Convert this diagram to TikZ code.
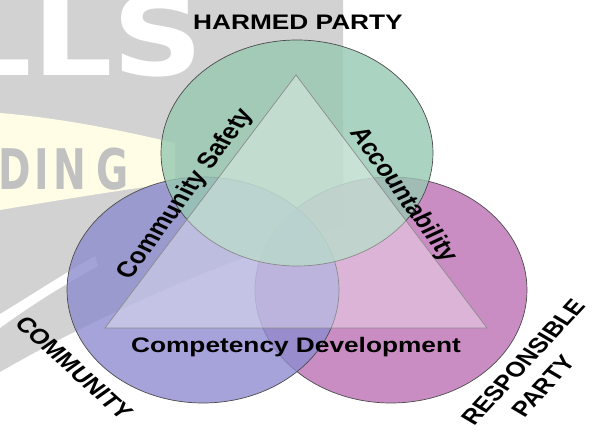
\documentclass[tikz,border=0pt]{standalone}
\usepackage{fontspec}
\setsansfont{Liberation Sans}
\newfontfamily\logofont{DejaVu Sans}

\definecolor{harmed}{RGB}{150,200,177}
\definecolor{community}{RGB}{142,140,207}
\definecolor{responsible}{RGB}{188,113,180}
\definecolor{logogray}{RGB}{210,210,210}
\definecolor{logoyellow}{RGB}{255,253,230}

\tikzset{
  party/.style={draw=black!70, line width=0.7pt, fill opacity=0.8},
  partytext/.style={font=\sffamily\bfseries\fontsize{21}{23}\selectfont, xscale=1.25, inner sep=0pt},
  valuetext/.style={partytext, font=\sffamily\bfseries\fontsize{22}{24}\selectfont},
  logotext/.style={font=\logofont\bfseries\fontsize{110}{110}\selectfont, text=white, xscale=1.15, inner sep=0pt},
  logoletter/.style={font=\logofont\bfseries\fontsize{56}{56}\selectfont, text=logogray!92!black, xscale=0.7, inner sep=0pt}
}

\begin{document}
\begin{tikzpicture}[x=1pt, y=-1pt]
  \useasboundingbox (0,0) rectangle (592,430);

  % faded logo behind everything
  \fill[logogray] (0,0) -- (343,0) -- (343,225) .. controls (220,260) and (90,320) .. (0,372) -- cycle;
  \fill[white] (0,314) .. controls (30,296) and (60,276) .. (95,256) -- (98,266) .. controls (62,286) and (30,306) .. (0,328) -- cycle;
  \fill[logoyellow] (0,113) .. controls (60,118) and (120,130) .. (175,143) -- (175,183) .. controls (120,190) and (60,200) .. (0,210) -- cycle;
  \node[logotext, anchor=base east] (lls) at (204,76) {LLS};
  \foreach \ch/\x in {D/15,I/42,N/70,G/113}
    \node[logoletter] (logo-\ch) at (\x,169) {\ch};

  % the three parties
  \filldraw[party, fill=responsible] (391,290) ellipse [x radius=136, y radius=113];
  \filldraw[party, fill=community] (203,290) ellipse [x radius=136, y radius=113];
  \filldraw[party, fill=harmed] (297,153) ellipse [x radius=136, y radius=113];

  % triangle of values
  \coordinate (top) at (296,75);
  \coordinate (bl) at (105,328);
  \coordinate (br) at (487,328);
  \filldraw[fill=white, fill opacity=0.35, draw=black!45, line width=0.7pt] (top) -- (bl) -- (br) -- cycle;

  % labels
  \node[partytext] (harmed) at (298,22) {HARMED PARTY};
  \node[partytext, rotate=-48.5] (community) at (74,368) {COMMUNITY};
  \node[partytext, rotate=53.4] (responsible) at (523,362) {RESPONSIBLE};
  \node[partytext, rotate=53.4] (party) at (543,386) {PARTY};
  \node[valuetext, rotate=59.4] (safety) at (186,194) {Community Safety};
  \node[valuetext, rotate=-59.8] (accountability) at (403,195) {Accountability};
  \node[partytext, anchor=base] (competency) at (296,353) {Competency Development};
\end{tikzpicture}
\end{document}
